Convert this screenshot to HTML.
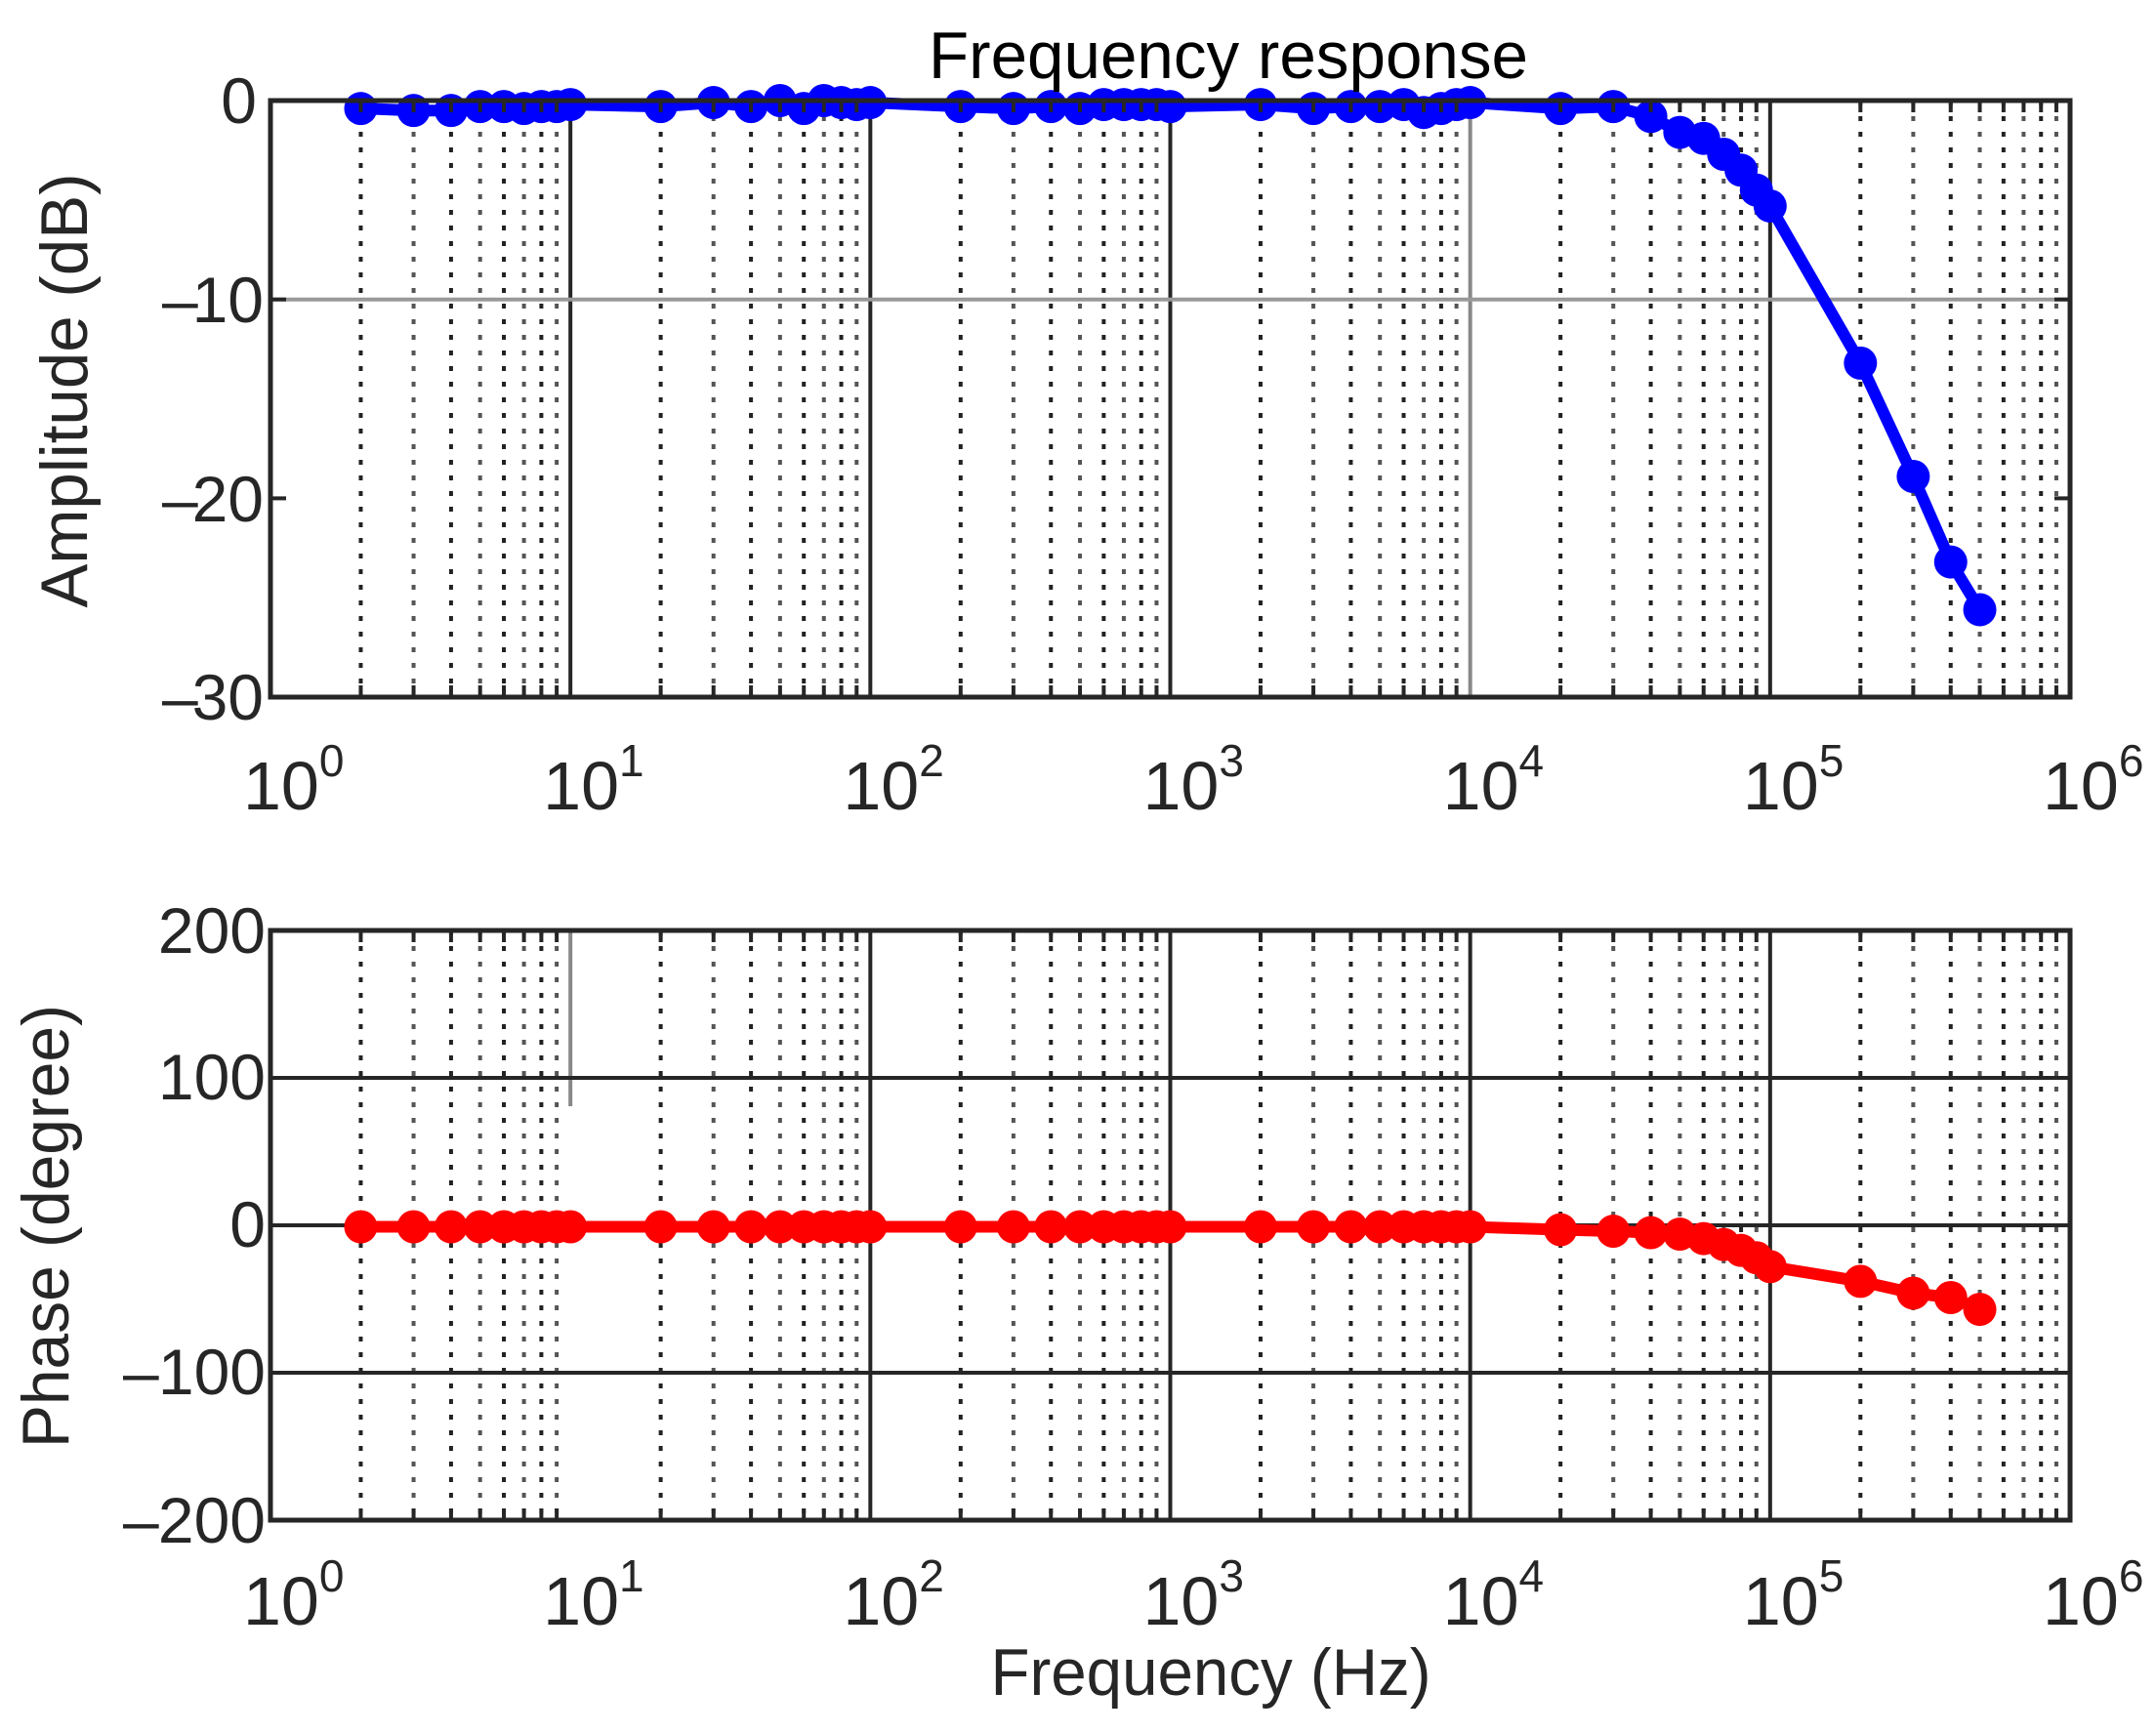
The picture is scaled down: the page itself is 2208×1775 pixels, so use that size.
<!DOCTYPE html>
<html><head><meta charset="utf-8">
<style>
html,body{margin:0;padding:0;background:#fff;}
svg{display:block;}
text{font-family:"Liberation Sans",Arial,sans-serif;fill:#262626;}
</style></head>
<body>
<svg id="s" width="2208" height="1775" viewBox="0 0 2208 1775" xmlns="http://www.w3.org/2000/svg">
<rect width="2208" height="1775" fill="#fff"/>
<g id="grid"></g>
<g id="data"></g>
<g id="axes"></g>
<text x="1258" y="80" font-size="68" text-anchor="middle" textLength="614" lengthAdjust="spacingAndGlyphs" style="fill:#000">Frequency response</text>
<text x="263" y="126" font-size="66" text-anchor="end">0</text>
<text x="166" y="330" font-size="66">–</text><text x="270" y="330" font-size="66" text-anchor="end">10</text>
<text x="166" y="534" font-size="66">–</text><text x="270" y="534" font-size="66" text-anchor="end">20</text>
<text x="166" y="737" font-size="66">–</text><text x="270" y="737" font-size="66" text-anchor="end">30</text>
<text x="272" y="976" font-size="66" text-anchor="end">200</text>
<text x="272" y="1126" font-size="66" text-anchor="end">100</text>
<text x="272" y="1277" font-size="66" text-anchor="end">0</text>
<text x="126" y="1428" font-size="66">–</text><text x="272" y="1428" font-size="66" text-anchor="end">100</text>
<text x="126" y="1580" font-size="66">–</text><text x="272" y="1580" font-size="66" text-anchor="end">200</text>
<g id="xl"></g>
<text transform="translate(89,400) rotate(-90)" font-size="68" text-anchor="middle" textLength="445" lengthAdjust="spacingAndGlyphs">Amplitude (dB)</text>
<text transform="translate(70,1256) rotate(-90)" font-size="68" text-anchor="middle" textLength="454" lengthAdjust="spacingAndGlyphs">Phase (degree)</text>
<text x="1240" y="1736" font-size="68" text-anchor="middle" textLength="451" lengthAdjust="spacingAndGlyphs">Frequency (Hz)</text>
</svg>
<script>
var NS="http://www.w3.org/2000/svg";
function el(p,t,a,txt){var e=document.createElementNS(NS,t);for(var k in a)e.setAttribute(k,a[k]);if(txt!==undefined)e.textContent=txt;p.appendChild(e);return e;}
var L=277,R=2120,D=(R-L)/6;
function X(f){return L+Math.log10(f)*D;}
var P=[{t:103,b:714},{t:953,b:1557}];
var grid=document.getElementById('grid'),axes=document.getElementById('axes'),data=document.getElementById('data'),xl=document.getElementById('xl');
P.forEach(function(p,i){
  for(var d=0;d<6;d++){
    for(var m=2;m<=9;m++){
      var x=X(m*Math.pow(10,d));
      el(grid,'line',{x1:x,y1:p.t,x2:x,y2:p.b,stroke:(m%2?'#555':'#222'),'stroke-width':4,'stroke-dasharray':'5 11'});
      el(axes,'line',{x1:x,y1:p.t,x2:x,y2:p.t+12,stroke:'#262626','stroke-width':4});
      el(axes,'line',{x1:x,y1:p.b,x2:x,y2:p.b-12,stroke:'#262626','stroke-width':4});
    }
  }
  var dec = i==0?[1,2,3,4,5]:[2,3,4,5];
  dec.forEach(function(d){var x=L+d*D;el(grid,'line',{x1:x,y1:p.t,x2:x,y2:p.b,stroke:(i==0&&d==4?'#888':'#262626'),'stroke-width':4});});
  if(i==1){var x=L+D;el(grid,'line',{x1:x,y1:p.t,x2:x,y2:p.t+180,stroke:'#888','stroke-width':4});}
  for(var d=0;d<=6;d++){
    var x=L+d*D;
    var yb = i==0?829:1664;
    var t=el(xl,'text',{x:x-28,y:yb,'font-size':70},'10');
    el(t,'tspan',{dy:-34,'font-size':46},String(d));
  }
});
el(grid,'line',{x1:L,y1:103+203.7,x2:R,y2:103+203.7,stroke:'#999','stroke-width':4});
[100,0,-100].forEach(function(v){var y=953+(200-v)*1.51;el(grid,'line',{x1:L,y1:y,x2:R,y2:y,stroke:'#262626','stroke-width':4});});
[0,-10,-20,-30].forEach(function(v){var y=103-v*20.37;el(axes,'line',{x1:L,y1:y,x2:L+16,y2:y,stroke:'#262626','stroke-width':4});el(axes,'line',{x1:R,y1:y,x2:R-16,y2:y,stroke:'#262626','stroke-width':4});});
[200,100,0,-100,-200].forEach(function(v){var y=953+(200-v)*1.51;el(axes,'line',{x1:L,y1:y,x2:L+16,y2:y,stroke:'#262626','stroke-width':4});el(axes,'line',{x1:R,y1:y,x2:R-16,y2:y,stroke:'#262626','stroke-width':4});});
P.forEach(function(p){el(axes,'rect',{x:L,y:p.t,width:R-L,height:p.b-p.t,fill:'none',stroke:'#262626','stroke-width':5});});
var F=[];for(var d=0;d<6;d++)for(var m=1;m<=9;m++){var f=m*Math.pow(10,d);if(f>=2&&f<=5e5)F.push(f);}
var A=[-0.4,-0.5,-0.5,-0.3,-0.3,-0.4,-0.3,-0.3,-0.2, -0.3,-0.1,-0.3,0,-0.4,0,-0.1,-0.2,-0.1, -0.3,-0.4,-0.3,-0.4,-0.2,-0.2,-0.2,-0.2,-0.3, -0.2,-0.4,-0.3,-0.3,-0.2,-0.6,-0.4,-0.2,-0.1, -0.4,-0.3,-0.8,-1.6,-1.9,-2.7,-3.5,-4.5,-5.3, -13.2,-18.9,-23.2,-25.6];
var Ph=[];F.forEach(function(f){Ph.push(-1);});
var tail={20000:-3,30000:-4,40000:-5,50000:-6,60000:-9,70000:-13,80000:-17,90000:-22,100000:-28,200000:-38,300000:-46,400000:-49,500000:-57};
F.forEach(function(f,i){if(tail[f]!==undefined)Ph[i]=tail[f];});
function draw(ys,col){
  var pts=F.map(function(f,i){return X(f).toFixed(1)+','+ys[i].toFixed(1);}).join(' ');
  el(data,'polyline',{points:pts,fill:'none',stroke:col,'stroke-width':12,'stroke-linejoin':'round'});
  F.forEach(function(f,i){el(data,'circle',{cx:X(f),cy:ys[i],r:17,fill:col});});
}
draw(A.map(function(v){return 103-v*20.37;}),'#0000ff');
draw(Ph.map(function(v){return 953+(200-v)*1.51;}),'#ff0000');
</script>
</body></html>
